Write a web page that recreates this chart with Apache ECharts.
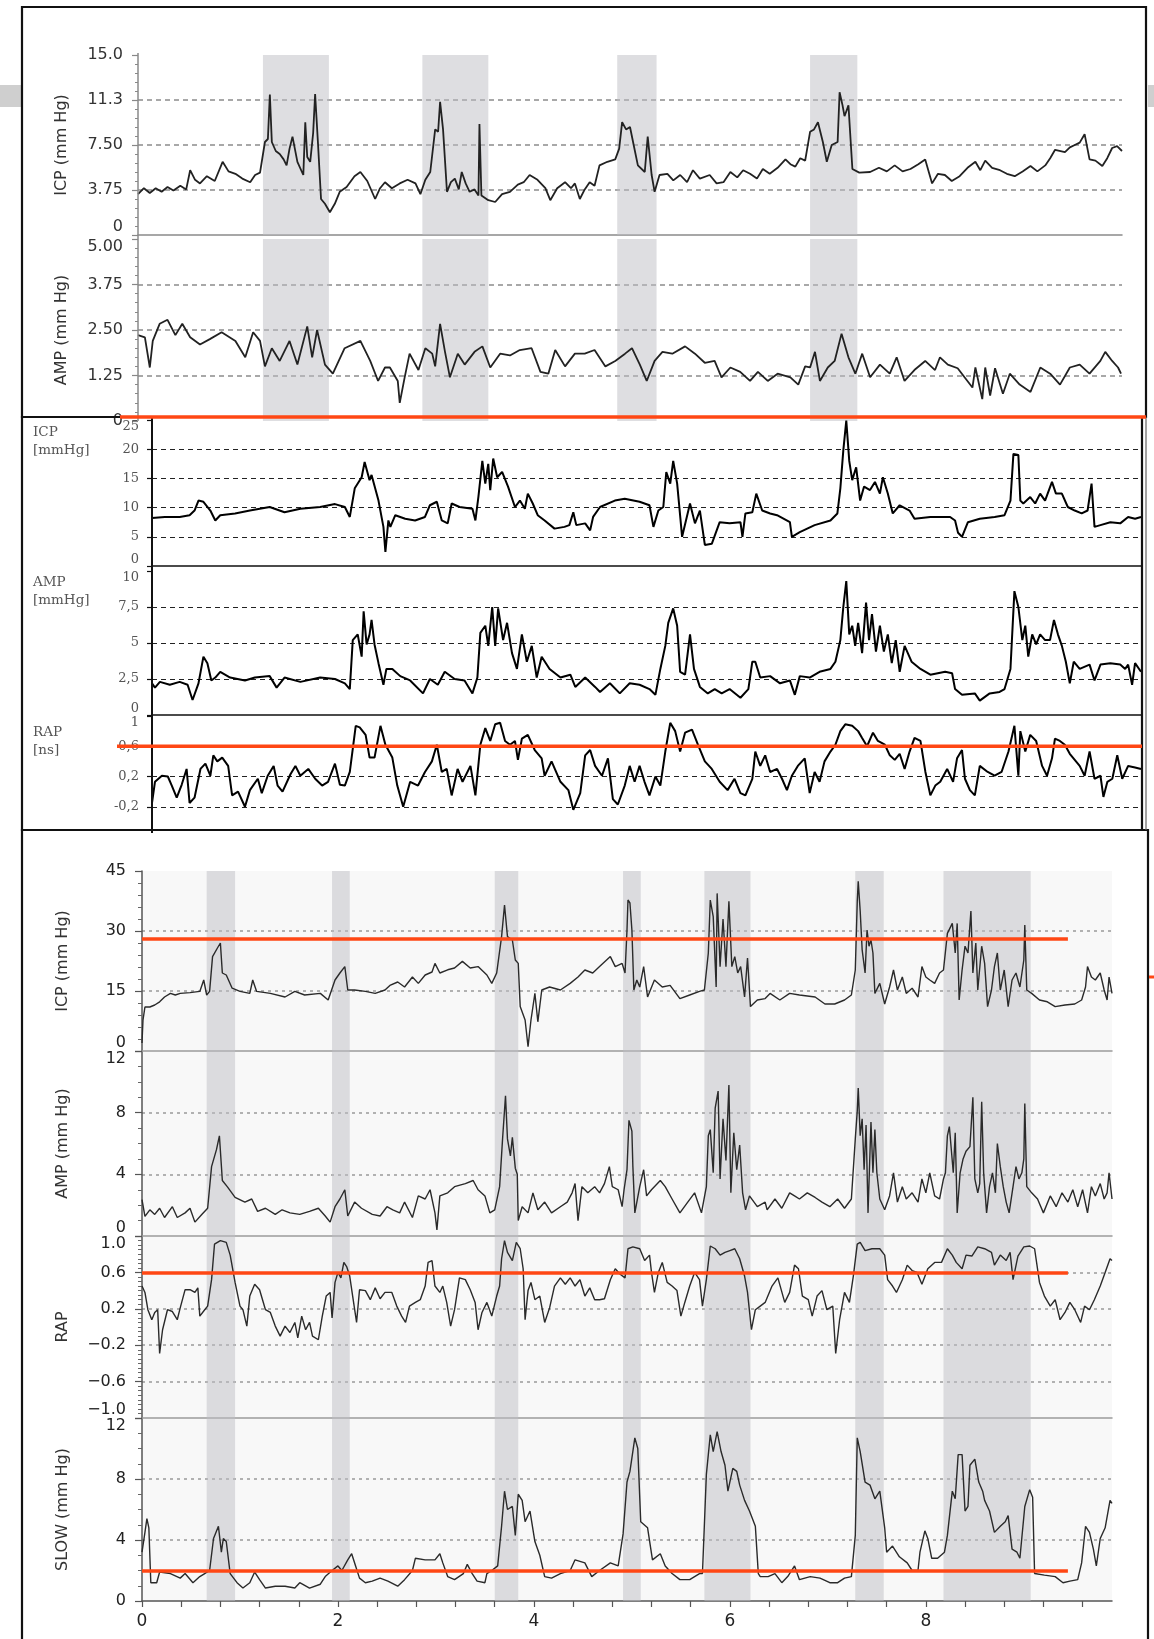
<!DOCTYPE html>
<html>
<head>
<meta charset="utf-8">
<title>ICP / AMP / RAP / SLOW</title>
<script src="https://cdn.jsdelivr.net/npm/echarts@6/dist/echarts.min.js"></script>
<style>
  html, body { margin: 0; padding: 0; background: #fff; }
  #main { width: 1154px; height: 1639px; }
</style>
</head>
<body>
<div id="main"></div>
<script>
// ---- panel A (top): time 0..100, ICP and AMP
const topBands = [[12.7, 19.4], [28.9, 35.6], [48.7, 52.7], [68.3, 73.1]];
const icpTopTicks = ['0', '3.75', '7.50', '11.3', '15.0'];
const ampTopTicks = ['0', '1.25', '2.50', '3.75', '5.00'];
const icpTopData = [[0,3.4],[0.6,3.9],[1.2,3.5],[1.8,3.9],[2.4,3.6],[3.0,4.0],[3.6,3.7],[4.3,4.1],[4.9,3.8],[5.3,5.4],[5.8,4.6],[6.3,4.3],[7.0,4.9],[7.8,4.5],[8.6,6.1],[9.2,5.3],[9.9,5.1],[10.6,4.7],[11.4,4.4],[11.9,5.0],[12.4,5.2],[12.9,7.75],[13.2,8.0],[13.4,11.7],[13.6,7.75],[14.0,7.0],[14.4,6.75],[14.8,6.3],[15.1,5.8],[15.4,7.2],[15.7,8.2],[16.2,6.1],[16.8,5.0],[17.0,9.4],[17.2,6.5],[17.5,6.1],[17.8,8.5],[18.0,11.75],[18.3,7.5],[18.6,3.0],[19.0,2.6],[19.5,1.9],[20.0,2.6],[20.5,3.6],[21.2,4.0],[22.0,4.9],[22.6,5.25],[23.3,4.5],[24.1,3.0],[24.6,3.9],[25.1,4.4],[25.8,3.9],[26.6,4.3],[27.4,4.6],[28.2,4.3],[28.7,3.4],[29.2,4.6],[29.7,5.25],[30.2,8.8],[30.5,8.6],[30.7,11.1],[31.0,8.8],[31.4,3.6],[31.8,4.4],[32.2,4.7],[32.6,3.8],[32.9,5.25],[33.3,4.3],[33.7,3.6],[34.2,3.8],[34.6,3.3],[34.7,9.25],[34.9,3.3],[35.6,2.9],[36.3,2.75],[37.0,3.4],[37.8,3.6],[38.6,4.2],[39.2,4.4],[39.8,5.0],[40.6,4.6],[41.4,3.9],[41.9,2.9],[42.6,3.9],[43.4,4.4],[44.0,3.9],[44.4,4.3],[44.9,3.0],[45.4,3.8],[45.9,4.4],[46.4,4.1],[46.9,5.8],[47.7,6.1],[48.5,6.3],[48.9,7.2],[49.2,9.4],[49.6,8.8],[50.0,9.0],[50.4,7.4],[50.8,5.8],[51.5,5.25],[51.8,8.2],[52.2,5.0],[52.5,3.6],[53.0,5.0],[53.8,5.1],[54.4,4.55],[55.1,5.0],[55.8,4.4],[56.4,5.4],[57.1,4.7],[58.1,5.0],[58.8,4.3],[59.5,4.4],[60.2,5.25],[60.9,4.8],[61.5,5.4],[62.2,5.1],[62.9,4.7],[63.5,5.5],[64.2,5.1],[65.0,5.6],[65.8,6.3],[66.3,5.9],[66.8,5.7],[67.3,6.4],[67.8,6.2],[68.3,8.6],[68.7,8.8],[69.1,9.4],[69.6,7.75],[70.0,6.1],[70.5,7.5],[71.1,7.75],[71.3,11.9],[71.6,10.8],[71.8,9.9],[72.2,10.8],[72.6,5.5],[73.3,5.2],[74.4,5.25],[75.3,5.6],[76.1,5.3],[76.9,5.8],[77.7,5.3],[78.5,5.5],[79.3,5.9],[80.0,6.3],[80.7,4.3],[81.3,5.1],[82.0,5.0],[82.7,4.5],[83.5,4.9],[84.3,5.6],[85.1,6.1],[85.6,5.4],[86.1,6.2],[86.8,5.6],[87.6,5.4],[88.3,5.1],[89.1,4.9],[89.9,5.3],[90.7,5.75],[91.4,5.3],[92.2,5.8],[92.7,6.4],[93.2,7.1],[94.2,6.9],[94.7,7.3],[95.2,7.5],[95.7,7.7],[96.2,8.4],[96.7,6.3],[97.3,6.2],[98.0,5.75],[98.5,6.4],[99.0,7.25],[99.5,7.4],[100,7.0]];
const ampTopData = [[0,2.36],[0.7,2.3],[1.2,1.47],[1.5,2.2],[2.2,2.67],[3.0,2.78],[3.8,2.36],[4.5,2.67],[5.3,2.3],[6.3,2.1],[7.3,2.25],[8.5,2.44],[9.9,2.2],[10.9,1.75],[11.7,2.44],[12.4,2.2],[12.9,1.5],[13.6,2.0],[14.4,1.65],[15.4,2.2],[16.2,1.55],[17.2,2.6],[17.7,1.75],[18.2,2.5],[19.0,1.55],[19.8,1.3],[21.0,2.0],[22.6,2.2],[23.6,1.65],[24.4,1.1],[25.1,1.47],[25.6,1.47],[26.4,1.1],[26.6,0.5],[27.1,1.2],[27.6,1.85],[28.5,1.4],[29.2,2.0],[29.9,1.85],[30.2,1.5],[30.7,2.67],[31.2,1.9],[31.7,1.2],[32.5,1.85],[33.2,1.55],[34.2,1.9],[35.0,2.05],[35.8,1.47],[36.8,1.85],[37.8,1.8],[38.8,1.95],[40.0,2.0],[40.9,1.35],[41.7,1.3],[42.4,1.95],[43.4,1.5],[44.4,1.85],[45.4,1.85],[46.4,1.95],[47.5,1.5],[48.5,1.65],[49.5,1.85],[50.2,2.0],[51.0,1.55],[51.7,1.1],[52.5,1.65],[53.3,1.9],[54.3,1.85],[55.6,2.05],[56.6,1.85],[57.6,1.6],[58.6,1.65],[59.3,1.2],[60.2,1.47],[61.2,1.35],[62.2,1.1],[63.0,1.35],[64.0,1.1],[65.0,1.3],[66.3,1.2],[67.1,1.0],[67.8,1.5],[68.3,1.47],[68.8,1.9],[69.3,1.1],[70.1,1.47],[70.8,1.65],[71.5,2.4],[72.2,1.75],[72.9,1.3],[73.6,1.85],[74.4,1.2],[75.4,1.55],[76.4,1.3],[77.1,1.75],[77.9,1.1],[78.9,1.4],[80.0,1.65],[81.0,1.4],[81.5,1.75],[82.3,1.55],[83.3,1.45],[84.0,1.2],[84.8,0.92],[85.1,1.47],[85.8,0.6],[86.1,1.47],[86.6,0.7],[87.1,1.45],[87.9,0.75],[88.6,1.3],[89.6,1.0],[90.7,0.8],[91.7,1.47],[92.7,1.3],[93.7,1.0],[94.7,1.47],[95.7,1.55],[96.7,1.3],[97.8,1.65],[98.3,1.9],[99.0,1.65],[99.6,1.47],[99.9,1.3]];

// ---- panel B (middle): time 0..100, ICP, AMP, RAP
const ampMidTicks = ['0', '2,5', '5', '7,5', '10'];
const rapMidTicks = ['', '-0,2', '0,2', '0,6', '1'];
const rapLimit = 0.6;
const icpMidData = [[0,8.2],[1.3,8.4],[2.8,8.4],[3.8,8.7],[4.3,9.5],[4.7,11.2],[5.2,11.0],[5.9,9.5],[6.4,7.8],[6.9,8.7],[8.4,9.0],[9.9,9.5],[11.9,10.1],[13.4,9.2],[15.0,9.8],[17.0,10.1],[18.5,10.6],[19.5,10.1],[20.0,8.4],[20.5,13.3],[21.2,15.2],[21.5,17.8],[22.0,14.7],[22.2,15.6],[22.9,11.2],[23.4,6.7],[23.6,2.4],[23.9,7.8],[24.1,6.7],[24.6,8.7],[25.6,8.1],[26.6,7.8],[27.6,8.4],[28.1,10.4],[28.8,11.0],[29.3,7.8],[29.9,7.3],[30.3,10.7],[31.1,10.1],[32.4,9.8],[32.7,7.8],[33.0,11.8],[33.4,18.0],[33.7,14.1],[34.0,17.5],[34.2,13.0],[34.5,18.4],[34.9,15.2],[35.4,16.1],[36.0,13.6],[36.7,10.1],[37.2,11.2],[37.7,9.8],[38.0,12.4],[38.5,10.7],[39.0,8.7],[39.7,7.8],[40.7,6.4],[41.7,6.7],[42.2,7.0],[42.6,9.2],[42.9,7.0],[43.8,7.3],[44.3,6.1],[44.6,8.4],[45.3,10.1],[46.8,11.2],[47.8,11.5],[49.3,11.0],[50.3,10.4],[50.7,6.7],[51.2,9.5],[51.7,10.1],[52.0,16.1],[52.4,14.1],[52.7,18.0],[53.1,14.1],[53.6,5.0],[54.4,10.7],[54.9,7.3],[55.4,9.5],[55.9,3.6],[56.6,3.8],[57.4,7.5],[58.4,7.3],[59.5,7.5],[59.7,5.0],[60.0,9.0],[60.7,9.2],[61.1,12.4],[61.7,9.5],[62.5,9.0],[63.2,8.7],[64.5,7.5],[64.7,5.0],[65.5,5.8],[67.0,7.0],[68.6,7.8],[69.3,9.0],[69.6,13.3],[69.9,19.8],[70.2,24.9],[70.5,18.0],[70.8,14.7],[71.2,16.9],[71.6,11.2],[72.0,13.6],[72.6,13.0],[73.1,14.4],[73.6,12.4],[73.9,15.2],[74.4,12.4],[74.9,9.0],[75.6,10.4],[76.6,9.5],[77.1,8.1],[78.7,8.4],[80.7,8.4],[81.2,7.8],[81.5,5.7],[81.9,5.0],[82.5,7.5],[83.7,8.1],[85.2,8.4],[86.2,8.7],[86.8,11.2],[87.1,19.2],[87.6,19.0],[87.8,11.2],[88.1,10.7],[88.8,11.8],[89.3,10.7],[89.8,12.4],[90.3,11.2],[91.0,14.4],[91.4,12.4],[92.0,12.4],[92.6,10.1],[93.3,9.5],[94.0,9.0],[94.6,9.5],[95.0,14.1],[95.3,6.7],[95.9,7.0],[96.9,7.5],[97.9,7.3],[98.7,8.4],[99.4,8.1],[100,8.4]];
const ampMidData = [[0,2.2],[0.3,1.9],[0.8,2.3],[1.8,2.1],[2.8,2.3],[3.6,2.1],[4.1,1.04],[4.7,2.2],[5.2,4.05],[5.6,3.6],[6.0,2.4],[6.4,2.6],[6.9,3.0],[7.9,2.6],[9.4,2.4],[10.4,2.6],[11.9,2.7],[12.6,1.9],[13.4,2.6],[15.0,2.3],[17.0,2.6],[18.5,2.5],[19.5,2.2],[20.0,1.8],[20.3,5.2],[20.8,5.6],[21.2,4.05],[21.4,7.2],[21.7,4.9],[22.0,5.6],[22.2,6.6],[22.5,4.9],[22.9,3.6],[23.4,2.1],[23.7,3.2],[24.3,3.2],[25.1,2.7],[26.1,2.4],[27.4,1.5],[28.1,2.5],[28.9,2.1],[29.6,3.0],[30.6,2.5],[31.6,2.4],[32.4,1.5],[32.9,2.6],[33.2,5.7],[33.7,6.2],[34.0,4.8],[34.4,7.5],[34.7,4.8],[35.0,7.4],[35.5,5.2],[35.9,6.4],[36.4,4.3],[36.9,3.2],[37.4,5.6],[37.9,3.7],[38.4,4.8],[38.9,2.6],[39.4,4.05],[40.2,3.2],[41.3,2.6],[42.3,2.8],[42.8,1.95],[43.8,2.6],[44.8,1.95],[45.3,1.6],[46.3,2.2],[47.3,1.5],[48.3,2.2],[49.3,2.1],[50.3,1.8],[50.9,1.4],[51.4,3.2],[51.9,4.8],[52.2,6.4],[52.7,7.4],[53.1,6.2],[53.4,3.0],[53.9,2.8],[54.4,5.6],[54.8,3.2],[55.4,1.95],[56.2,1.5],[56.9,1.8],[57.6,1.5],[58.4,1.8],[59.5,1.2],[60.3,1.8],[60.7,3.7],[61.0,3.7],[61.5,2.6],[62.5,2.7],[63.5,2.2],[64.5,2.4],[65.0,1.4],[65.5,2.7],[66.5,2.6],[67.5,3.0],[68.6,3.2],[69.1,3.7],[69.6,5.2],[69.9,7.5],[70.2,9.3],[70.5,5.6],[70.8,6.2],[71.1,4.8],[71.4,6.4],[71.8,4.3],[72.2,7.8],[72.5,5.2],[72.8,7.0],[73.2,4.4],[73.6,6.2],[74.0,4.4],[74.4,5.6],[74.8,3.6],[75.2,5.2],[75.6,3.0],[76.1,4.8],[76.8,3.7],[77.7,3.2],[78.7,2.8],[80.2,3.0],[80.9,2.9],[81.2,1.8],[81.9,1.4],[83.2,1.5],[83.7,1.0],[84.7,1.5],[85.7,1.6],[86.2,1.8],[86.8,3.2],[87.2,8.6],[87.6,7.5],[88.0,5.2],[88.3,6.2],[88.6,4.05],[89.0,5.6],[89.4,4.9],[89.8,5.6],[90.3,5.2],[90.8,5.2],[91.2,6.6],[91.6,5.6],[92.0,4.8],[92.4,3.7],[92.8,2.2],[93.2,3.7],[93.8,3.2],[94.8,3.5],[95.3,2.4],[95.9,3.5],[96.9,3.6],[97.9,3.5],[98.4,3.2],[98.7,3.5],[99.1,2.1],[99.4,3.6],[100,3.0]];
const rapMidData = [[0,-0.15],[0.3,0.13],[1.0,0.21],[1.6,0.2],[2.0,0.08],[2.5,-0.08],[3.0,0.09],[3.5,0.3],[3.8,-0.15],[4.3,-0.08],[4.9,0.3],[5.4,0.37],[5.9,0.21],[6.2,0.48],[6.6,0.4],[7.1,0.45],[7.7,0.34],[8.1,-0.05],[8.7,0.0],[9.4,-0.2],[9.9,0.02],[10.7,0.17],[11.1,-0.02],[11.7,0.21],[12.3,0.34],[12.7,0.08],[13.2,0.0],[14.0,0.23],[14.5,0.34],[15.0,0.21],[15.8,0.3],[16.5,0.17],[17.2,0.08],[17.8,0.13],[18.5,0.37],[19.0,0.09],[19.5,0.08],[20.0,0.26],[20.6,0.87],[21.0,0.85],[21.6,0.75],[22.0,0.45],[22.5,0.45],[23.1,0.87],[23.6,0.62],[24.3,0.45],[24.8,0.08],[25.4,-0.2],[26.1,0.13],[26.9,0.08],[27.6,0.26],[28.3,0.4],[28.8,0.62],[29.3,0.26],[29.8,0.3],[30.3,-0.05],[30.9,0.3],[31.4,0.13],[32.2,0.34],[32.7,-0.05],[33.2,0.62],[33.7,0.84],[34.2,0.67],[34.7,0.89],[35.2,0.91],[35.7,0.67],[36.2,0.62],[36.7,0.67],[37.0,0.42],[37.4,0.7],[38.0,0.75],[38.7,0.55],[39.4,0.44],[39.7,0.21],[40.4,0.4],[41.3,0.13],[42.1,0.02],[42.6,-0.24],[43.3,-0.02],[43.8,0.48],[44.3,0.55],[44.8,0.34],[45.5,0.21],[46.1,0.44],[46.6,-0.1],[47.1,-0.17],[47.8,0.08],[48.3,0.34],[48.8,0.13],[49.3,0.34],[49.8,0.13],[50.3,-0.05],[50.9,0.2],[51.4,0.08],[51.9,0.53],[52.4,0.91],[52.9,0.8],[53.4,0.53],[53.9,0.78],[54.6,0.82],[55.2,0.62],[55.9,0.4],[56.6,0.3],[57.4,0.13],[58.2,0.02],[58.9,0.17],[59.5,-0.02],[60.0,-0.05],[60.7,0.17],[61.0,0.53],[61.5,0.34],[62.0,0.48],[62.5,0.26],[63.2,0.3],[63.7,0.17],[64.2,0.02],[64.7,0.21],[65.3,0.34],[66.0,0.44],[66.5,-0.02],[67.0,0.26],[67.5,0.13],[68.0,0.4],[68.6,0.53],[69.1,0.62],[69.6,0.8],[70.1,0.89],[70.8,0.87],[71.4,0.8],[71.8,0.71],[72.3,0.6],[72.9,0.78],[73.4,0.67],[74.1,0.62],[74.6,0.48],[75.1,0.42],[75.6,0.5],[76.1,0.3],[76.6,0.53],[77.1,0.71],[77.7,0.67],[78.2,0.26],[78.7,-0.05],[79.2,0.08],[79.7,0.13],[80.4,0.3],[81.0,0.13],[81.4,0.44],[81.9,0.55],[82.2,0.17],[82.7,0.02],[83.2,-0.05],[83.7,0.34],[84.5,0.26],[85.2,0.21],[85.9,0.26],[86.6,0.53],[87.2,0.87],[87.6,0.21],[87.8,0.8],[88.3,0.53],[88.8,0.75],[89.4,0.67],[90.0,0.34],[90.5,0.21],[91.0,0.44],[91.3,0.7],[91.8,0.67],[92.3,0.62],[92.8,0.5],[93.3,0.42],[93.8,0.34],[94.3,0.21],[94.8,0.53],[95.3,0.17],[95.9,0.21],[96.2,-0.07],[96.6,0.13],[97.1,0.17],[97.6,0.48],[98.1,0.17],[98.7,0.34],[99.4,0.32],[100,0.3]];

// ---- panel C (bottom): time axis 0..9.9
const lowBands = [[0.66, 0.95], [1.94, 2.12], [3.6, 3.84], [4.91, 5.09], [5.74, 6.21], [7.28, 7.57], [8.18, 9.07]];
const timeTicks = [0, 0.4, 0.8, 1.2, 1.6, 2, 2.4, 2.8, 3.2, 3.6, 4, 4.4, 4.8, 5.2, 5.6, 6, 6.4, 6.8, 7.2, 7.6, 8, 8.4, 8.8, 9.2, 9.6];
const timeLabels = [0, 2, 4, 6, 8];
const icpLowTicks = ['0', '15', '30', '45'];
const ampLowTicks = ['0', '4', '8', '12'];
const rapLowTicks = ['\u22121.0', '\u22120.6', '\u22120.2', '0.2', '0.6', '1.0'];
const slowLowTicks = ['0', '4', '8', '12'];
const icpLimit = 28;
const slowLimit = 2;
const limitEnd = 9.45;
const icpLowData = [[0,2],[0.01,7.7],[0.03,11],[0.08,11],[0.13,11.5],[0.18,12.3],[0.23,13.5],[0.29,14.4],[0.34,14.0],[0.39,14.4],[0.49,14.6],[0.59,14.9],[0.63,17.75],[0.66,14.0],[0.69,14.9],[0.72,23.6],[0.77,25.75],[0.80,27.0],[0.82,19.5],[0.86,19.0],[0.92,15.7],[1.00,14.9],[1.10,14.4],[1.13,17.75],[1.17,14.9],[1.31,14.4],[1.46,13.5],[1.56,14.9],[1.66,14.0],[1.82,14.4],[1.90,12.75],[1.97,17.75],[2.02,19.5],[2.07,21.1],[2.10,15.25],[2.17,15.25],[2.28,14.9],[2.38,14.4],[2.48,15.25],[2.53,16.4],[2.61,17.25],[2.68,16.0],[2.76,18.5],[2.82,16.9],[2.89,19.0],[2.96,19.75],[2.99,21.9],[3.04,19.5],[3.12,20.3],[3.19,20.75],[3.27,22.4],[3.35,20.75],[3.43,21.1],[3.52,19.0],[3.57,16.9],[3.62,19.5],[3.67,28.6],[3.70,36.5],[3.73,28.6],[3.78,27.75],[3.81,22.75],[3.84,21.9],[3.86,11.1],[3.91,7.75],[3.94,1.1],[3.97,7.75],[4.01,14.4],[4.04,7.3],[4.08,15.25],[4.16,16.0],[4.27,15.25],[4.37,16.9],[4.45,18.5],[4.52,20.25],[4.60,19.5],[4.67,21.1],[4.78,23.6],[4.83,21.1],[4.90,21.9],[4.93,19.5],[4.95,30.25],[4.96,37.75],[4.98,37.0],[5.00,30.25],[5.02,15.25],[5.05,17.75],[5.08,16.0],[5.12,21.1],[5.16,13.5],[5.23,17.75],[5.31,16.0],[5.39,16.4],[5.49,13.1],[5.59,14.0],[5.69,14.9],[5.74,15.25],[5.78,24.5],[5.80,37.75],[5.83,33.6],[5.86,16.0],[5.87,39.4],[5.90,21.1],[5.93,33.0],[5.96,21.1],[5.99,37.4],[6.02,21.1],[6.05,23.6],[6.08,19.5],[6.11,21.1],[6.15,13.5],[6.18,23.25],[6.21,11.1],[6.28,12.75],[6.36,13.1],[6.41,14.4],[6.51,12.75],[6.61,14.4],[6.71,14.0],[6.87,13.5],[6.97,11.75],[7.07,11.75],[7.17,12.75],[7.24,14.0],[7.28,20.25],[7.30,37.4],[7.31,42.4],[7.33,35.0],[7.35,25.3],[7.38,19.5],[7.40,30.25],[7.42,26.2],[7.44,27.75],[7.46,24.5],[7.48,14.4],[7.53,16.9],[7.58,11.75],[7.63,16.0],[7.67,20.25],[7.71,15.25],[7.76,18.5],[7.80,14.4],[7.86,15.7],[7.92,13.5],[7.96,21.1],[8.00,18.5],[8.04,17.75],[8.09,16.9],[8.14,19.5],[8.18,20.25],[8.22,29.4],[8.27,31.9],[8.30,24.5],[8.32,31.9],[8.34,12.75],[8.37,20.25],[8.40,26.2],[8.43,24.5],[8.46,35.0],[8.48,19.5],[8.51,27.0],[8.53,15.25],[8.57,26.2],[8.60,21.9],[8.63,11.1],[8.67,15.25],[8.70,21.1],[8.73,24.5],[8.76,15.25],[8.80,20.25],[8.84,11.1],[8.88,17.75],[8.92,19.5],[8.96,16.0],[9.00,22.75],[9.01,31.5],[9.03,15.25],[9.08,14.4],[9.16,12.75],[9.24,12.3],[9.32,11.1],[9.42,11.5],[9.52,11.75],[9.59,12.75],[9.63,16.0],[9.65,21.1],[9.69,18.5],[9.73,17.75],[9.78,19.5],[9.82,15.25],[9.85,12.75],[9.87,18.5],[9.90,14.4]];
const ampLowData = [[0,2.36],[0.03,1.27],[0.08,1.7],[0.13,1.4],[0.18,1.8],[0.23,1.2],[0.31,1.9],[0.36,1.2],[0.44,1.5],[0.49,1.8],[0.54,0.9],[0.61,1.4],[0.67,1.8],[0.71,4.5],[0.76,5.6],[0.79,6.5],[0.82,3.6],[0.87,3.2],[0.95,2.5],[1.05,2.2],[1.12,2.4],[1.18,1.6],[1.26,1.8],[1.36,1.4],[1.43,1.7],[1.51,1.5],[1.61,1.4],[1.71,1.6],[1.80,1.8],[1.87,1.3],[1.92,0.9],[1.97,1.9],[2.02,2.4],[2.07,3.0],[2.10,1.3],[2.17,2.2],[2.24,1.8],[2.35,1.4],[2.43,1.3],[2.50,1.9],[2.56,1.7],[2.63,1.5],[2.68,2.2],[2.76,1.2],[2.82,2.6],[2.89,2.4],[2.94,3.0],[2.99,1.5],[3.01,0.4],[3.04,2.6],[3.12,2.8],[3.19,3.2],[3.30,3.4],[3.38,3.6],[3.43,3.0],[3.50,2.6],[3.55,1.5],[3.60,1.7],[3.65,3.2],[3.68,6.3],[3.71,9.1],[3.73,6.3],[3.76,5.2],[3.78,6.4],[3.81,4.4],[3.83,4.0],[3.84,1.0],[3.88,1.9],[3.94,1.5],[3.99,2.8],[4.04,1.7],[4.11,2.2],[4.18,1.5],[4.27,1.9],[4.34,2.2],[4.39,2.8],[4.42,3.4],[4.45,1.0],[4.49,3.2],[4.55,2.8],[4.62,3.2],[4.67,2.8],[4.72,3.4],[4.77,4.5],[4.80,3.2],[4.86,3.0],[4.90,1.9],[4.92,3.0],[4.95,4.3],[4.97,7.5],[5.00,6.8],[5.01,4.5],[5.03,1.5],[5.08,3.2],[5.12,4.3],[5.15,2.6],[5.20,3.0],[5.29,3.6],[5.34,3.2],[5.41,2.4],[5.49,1.5],[5.57,2.2],[5.64,2.8],[5.71,1.5],[5.76,3.2],[5.78,6.5],[5.80,6.9],[5.83,4.1],[5.85,8.3],[5.88,9.4],[5.90,3.7],[5.93,7.6],[5.96,4.9],[5.99,9.8],[6.01,2.8],[6.04,6.7],[6.07,4.3],[6.10,5.9],[6.13,2.8],[6.16,1.7],[6.20,2.6],[6.28,1.9],[6.36,2.2],[6.38,1.7],[6.46,2.4],[6.53,1.8],[6.61,2.8],[6.66,2.6],[6.71,2.4],[6.79,2.8],[6.87,2.5],[6.94,2.2],[7.02,1.9],[7.10,2.4],[7.17,1.8],[7.24,2.4],[7.28,6.3],[7.30,8.1],[7.31,9.6],[7.33,6.5],[7.35,7.6],[7.37,4.3],[7.39,7.2],[7.41,1.5],[7.44,7.4],[7.46,4.1],[7.48,6.9],[7.50,4.1],[7.53,2.4],[7.58,1.7],[7.63,2.6],[7.67,4.1],[7.71,2.2],[7.76,3.2],[7.80,2.4],[7.86,2.8],[7.92,2.2],[7.96,3.7],[8.00,2.8],[8.04,4.1],[8.09,2.6],[8.14,2.4],[8.18,3.7],[8.20,4.1],[8.22,6.5],[8.24,7.1],[8.28,4.1],[8.30,6.7],[8.32,1.5],[8.35,4.1],[8.38,5.0],[8.41,5.5],[8.45,5.8],[8.48,9.0],[8.50,3.7],[8.53,2.8],[8.55,3.4],[8.57,8.7],[8.59,4.1],[8.62,1.5],[8.65,3.2],[8.68,4.1],[8.71,2.8],[8.73,6.0],[8.76,4.5],[8.79,3.2],[8.82,2.2],[8.85,1.5],[8.89,3.2],[8.92,4.5],[8.95,3.7],[8.98,4.1],[9.00,5.0],[9.01,8.6],[9.03,3.2],[9.08,2.8],[9.14,2.4],[9.20,1.5],[9.27,2.6],[9.33,1.9],[9.39,2.8],[9.45,2.2],[9.50,3.0],[9.55,1.9],[9.60,3.0],[9.65,1.5],[9.69,3.2],[9.73,2.6],[9.78,3.4],[9.82,2.4],[9.85,2.8],[9.87,4.1],[9.90,2.4]];
const rapLowData = [[0,0.45],[0.03,0.38],[0.06,0.19],[0.10,0.08],[0.13,0.16],[0.16,0.19],[0.18,-0.29],[0.21,-0.03],[0.26,0.19],[0.31,0.17],[0.36,0.08],[0.39,0.21],[0.44,0.41],[0.49,0.41],[0.54,0.38],[0.57,0.43],[0.59,0.12],[0.64,0.19],[0.67,0.23],[0.71,0.52],[0.74,0.91],[0.80,0.95],[0.86,0.93],[0.90,0.79],[0.95,0.49],[1.00,0.23],[1.03,0.19],[1.07,0.01],[1.10,0.34],[1.15,0.47],[1.20,0.41],[1.26,0.19],[1.31,0.16],[1.36,0.01],[1.41,-0.1],[1.46,0.01],[1.51,-0.06],[1.56,0.05],[1.59,-0.12],[1.63,0.12],[1.67,-0.03],[1.71,0.05],[1.74,-0.1],[1.80,-0.14],[1.84,0.12],[1.88,0.34],[1.92,0.38],[1.94,0.1],[1.97,0.49],[2.00,0.6],[2.03,0.54],[2.06,0.71],[2.09,0.66],[2.12,0.56],[2.15,0.34],[2.19,0.05],[2.22,0.41],[2.28,0.4],[2.33,0.3],[2.38,0.43],[2.43,0.31],[2.48,0.38],[2.55,0.38],[2.60,0.23],[2.65,0.12],[2.69,0.05],[2.73,0.23],[2.79,0.27],[2.84,0.3],[2.89,0.45],[2.92,0.71],[2.96,0.73],[2.99,0.45],[3.04,0.38],[3.07,0.45],[3.11,0.27],[3.15,0.01],[3.19,0.19],[3.24,0.54],[3.30,0.52],[3.35,0.41],[3.40,0.27],[3.43,-0.03],[3.47,0.16],[3.52,0.27],[3.57,0.12],[3.62,0.34],[3.65,0.45],[3.67,0.75],[3.70,0.95],[3.73,0.82],[3.78,0.73],[3.82,0.93],[3.86,0.86],[3.89,0.64],[3.91,0.08],[3.94,0.4],[3.97,0.49],[4.01,0.3],[4.06,0.34],[4.11,0.05],[4.16,0.21],[4.21,0.45],[4.27,0.54],[4.32,0.47],[4.37,0.54],[4.42,0.45],[4.47,0.52],[4.52,0.34],[4.57,0.43],[4.62,0.3],[4.67,0.3],[4.72,0.31],[4.78,0.52],[4.83,0.64],[4.88,0.58],[4.93,0.54],[4.96,0.86],[5.01,0.88],[5.08,0.86],[5.13,0.73],[5.18,0.79],[5.20,0.6],[5.23,0.38],[5.27,0.6],[5.31,0.71],[5.36,0.49],[5.41,0.45],[5.46,0.4],[5.50,0.12],[5.54,0.27],[5.59,0.45],[5.64,0.6],[5.69,0.52],[5.72,0.23],[5.76,0.52],[5.80,0.89],[5.85,0.86],[5.90,0.79],[5.95,0.82],[6.00,0.84],[6.05,0.86],[6.10,0.75],[6.15,0.56],[6.18,0.38],[6.22,-0.03],[6.26,0.19],[6.31,0.23],[6.36,0.27],[6.43,0.45],[6.49,0.54],[6.56,0.27],[6.61,0.38],[6.66,0.68],[6.70,0.64],[6.74,0.34],[6.80,0.3],[6.84,0.12],[6.89,0.34],[6.94,0.4],[6.99,0.19],[7.05,0.23],[7.08,-0.29],[7.12,0.08],[7.17,0.38],[7.22,0.27],[7.26,0.56],[7.30,0.91],[7.33,0.93],[7.38,0.84],[7.45,0.86],[7.53,0.86],[7.58,0.79],[7.61,0.52],[7.66,0.45],[7.70,0.38],[7.76,0.52],[7.81,0.68],[7.86,0.62],[7.91,0.6],[7.96,0.47],[8.02,0.64],[8.09,0.71],[8.16,0.71],[8.22,0.86],[8.27,0.79],[8.31,0.71],[8.37,0.64],[8.41,0.79],[8.47,0.78],[8.53,0.88],[8.60,0.86],[8.67,0.82],[8.70,0.68],[8.76,0.79],[8.82,0.73],[8.86,0.82],[8.89,0.52],[8.94,0.78],[9.00,0.88],[9.06,0.89],[9.11,0.86],[9.16,0.49],[9.21,0.34],[9.27,0.23],[9.32,0.3],[9.37,0.08],[9.42,0.16],[9.47,0.27],[9.52,0.19],[9.58,0.05],[9.62,0.23],[9.67,0.19],[9.72,0.3],[9.78,0.45],[9.83,0.6],[9.88,0.75],[9.90,0.73]];
const slowLowData = [[0,3.2],[0.03,4.5],[0.05,5.4],[0.07,4.8],[0.09,1.2],[0.15,1.2],[0.18,1.9],[0.29,1.8],[0.39,1.5],[0.44,1.8],[0.52,1.2],[0.59,1.6],[0.64,1.8],[0.69,2.0],[0.73,4.1],[0.78,4.9],[0.81,3.2],[0.83,4.1],[0.86,3.9],[0.90,1.8],[0.97,1.2],[1.03,0.85],[1.10,1.2],[1.15,1.9],[1.20,1.4],[1.26,0.85],[1.36,0.97],[1.46,0.97],[1.56,0.85],[1.61,1.2],[1.71,0.85],[1.82,1.1],[1.87,1.6],[1.94,2.0],[2.00,2.3],[2.04,2.0],[2.10,2.7],[2.14,3.1],[2.18,2.3],[2.22,1.5],[2.28,1.2],[2.35,1.3],[2.43,1.5],[2.51,1.3],[2.61,0.97],[2.68,1.4],[2.76,2.0],[2.79,2.8],[2.89,2.7],[2.99,2.7],[3.04,3.1],[3.07,2.5],[3.12,1.6],[3.19,1.4],[3.28,1.8],[3.32,2.4],[3.37,1.8],[3.42,1.3],[3.50,1.2],[3.52,1.8],[3.57,2.0],[3.63,2.3],[3.67,4.9],[3.70,7.2],[3.73,6.0],[3.78,6.2],[3.81,4.3],[3.84,7.0],[3.88,6.6],[3.91,5.2],[3.96,5.9],[4.01,3.9],[4.06,3.0],[4.11,1.6],[4.18,1.5],[4.27,1.8],[4.37,2.0],[4.42,2.7],[4.52,2.5],[4.59,1.6],[4.67,2.0],[4.78,2.5],[4.86,2.3],[4.91,4.4],[4.95,7.8],[4.98,8.5],[5.03,10.7],[5.06,10.0],[5.09,5.2],[5.16,4.8],[5.21,2.7],[5.29,3.1],[5.34,2.3],[5.41,1.8],[5.49,1.4],[5.59,1.4],[5.69,1.8],[5.72,1.8],[5.76,8.3],[5.80,10.9],[5.83,9.8],[5.87,11.1],[5.91,9.8],[5.95,8.9],[5.98,7.2],[6.03,8.7],[6.07,8.5],[6.10,7.6],[6.15,6.6],[6.20,5.9],[6.26,4.9],[6.28,4.8],[6.29,1.8],[6.31,1.6],[6.39,1.6],[6.46,1.8],[6.53,1.2],[6.59,1.6],[6.66,2.3],[6.71,1.4],[6.82,1.6],[6.92,1.5],[7.02,1.2],[7.10,1.2],[7.17,1.5],[7.24,1.6],[7.28,4.3],[7.30,10.7],[7.33,9.8],[7.38,7.8],[7.43,7.6],[7.48,6.7],[7.53,7.2],[7.58,4.8],[7.60,3.2],[7.66,3.6],[7.73,2.9],[7.81,2.5],[7.86,2.0],[7.92,2.0],[7.94,3.2],[7.99,4.6],[8.02,4.1],[8.06,2.8],[8.12,2.8],[8.19,3.2],[8.22,4.3],[8.27,7.2],[8.30,6.7],[8.33,9.6],[8.37,9.6],[8.40,5.9],[8.43,6.2],[8.45,8.9],[8.50,9.3],[8.54,7.8],[8.58,7.2],[8.60,6.6],[8.65,5.9],[8.70,4.5],[8.76,4.9],[8.81,5.2],[8.84,5.6],[8.88,3.4],[8.93,3.2],[8.96,2.8],[9.01,6.2],[9.06,7.3],[9.09,6.8],[9.11,1.8],[9.21,1.7],[9.32,1.6],[9.40,1.2],[9.47,1.3],[9.55,1.4],[9.59,2.5],[9.63,4.9],[9.67,4.5],[9.71,3.4],[9.74,2.3],[9.78,4.1],[9.83,4.8],[9.88,6.6],[9.90,6.4]];

const sans = 'DejaVu Sans';
const serif = 'DejaVu Serif';
const orange = '#ff4714';

const chart = echarts.init(document.getElementById('main'));

// 公共样式
const bandArea = (bands) => ({
  silent: true,
  itemStyle: { color: 'rgba(190,190,196,0.5)' },
  data: bands.map(b => [{ xAxis: b[0] }, { xAxis: b[1] }])
});
const limitLine = (y) => ({
  silent: true,
  symbol: 'none',
  label: { show: false },
  lineStyle: { color: orange, width: 3.5, type: 'solid' },
  data: [[{ coord: [0, y] }, { coord: [limitEnd, y] }]]
});

const topY = (grid, max, step, labels, name) => ({
  gridIndex: grid, type: 'value', min: 0, max: max, interval: step,
  axisLine: { show: false },
  axisTick: { show: true, length: 6, lineStyle: { color: '#888', width: 1.2 } },
  minorTick: { show: true, splitNumber: 5, length: 3, lineStyle: { color: '#888' } },
  splitLine: { show: true, showMinLine: false, showMaxLine: false, lineStyle: { type: [5, 4], color: '#8c8c8c', width: 1.5 } },
  axisLabel: { formatter: (v, i) => labels[i], fontFamily: sans, fontSize: 16, color: '#333', margin: 15,
    verticalAlignMinLabel: grid === 0 ? 'bottom' : 'middle', verticalAlignMaxLabel: grid === 1 ? 'top' : 'middle' },
  name: name, nameLocation: 'middle', nameGap: 68,
  nameTextStyle: { fontFamily: sans, fontSize: 16, color: '#333' }
});

const midY = (grid, min, max, step, labels) => ({
  gridIndex: grid, type: 'value', min: min, max: max, interval: step,
  axisLine: { show: false },
  axisTick: { show: true, length: 5, lineStyle: { color: '#111', width: 1.2 } },
  splitLine: { show: true, showMinLine: false, showMaxLine: false, lineStyle: { type: [5, 4], color: '#222', width: 1 } },
  axisLabel: { formatter: (v, i) => labels[i], fontFamily: serif, fontSize: 13, color: '#555', margin: 13,
    verticalAlignMinLabel: 'bottom', verticalAlignMaxLabel: 'top' }
});

const lowY = (grid, min, max, step, minor, labels, name, alignMin, alignMax) => ({
  gridIndex: grid, type: 'value', min: min, max: max, interval: step,
  axisLine: { show: true, lineStyle: { color: '#555', width: 1.5 } },
  axisTick: { show: true, length: 7, lineStyle: { color: '#555', width: 1.2 } },
  minorTick: { show: true, splitNumber: minor, length: 4, lineStyle: { color: '#666' } },
  splitLine: { show: true, showMinLine: false, showMaxLine: false, lineStyle: { type: [3, 4], color: '#999', width: 1.5 } },
  axisLabel: { formatter: (v, i) => labels[i], fontFamily: sans, fontSize: 16, color: '#222', margin: 16,
    verticalAlignMinLabel: alignMin, verticalAlignMaxLabel: alignMax },
  name: name, nameLocation: 'middle', nameGap: 71,
  nameTextStyle: { fontFamily: sans, fontSize: 16, color: '#333' }
});

const plainX = (grid, lineColor, lineWidth) => ({
  gridIndex: grid, type: 'value', min: 0, max: 100,
  axisLine: { show: !!lineColor, onZero: false, lineStyle: { color: lineColor || '#000', width: lineWidth || 1 } },
  axisTick: { show: false }, axisLabel: { show: false }, splitLine: { show: false }
});
const lowX = (grid) => ({
  gridIndex: grid, type: 'value', min: 0, max: 9.9,
  axisLine: { show: true, onZero: false, lineStyle: { color: '#9a9a9a', width: 1.5 } },
  axisTick: { show: false }, axisLabel: { show: false }, splitLine: { show: false }
});

const lineSeries = (idx, data, color, width, extra) => Object.assign({
  type: 'line', xAxisIndex: idx, yAxisIndex: idx, data: data,
  showSymbol: false, symbol: 'none', silent: true,
  lineStyle: { color: color, width: width }
}, extra || {});

const option = {
  animation: false,
  backgroundColor: '#fff',
  grid: [
    { left: 138, top: 55, width: 984, height: 180 },
    { left: 138, top: 239, width: 984, height: 182 },
    { left: 152, top: 420, width: 989, height: 146 },
    { left: 152, top: 571, width: 989, height: 144 },
    // RAP grid reaches down to -0.6 so its ticks start at -0.6; the part below the frame is masked
    { left: 152, top: 716, width: 989, height: 121 },
    { left: 142, top: 871, width: 970, height: 180, show: true, backgroundColor: '#f8f8f8', borderWidth: 0 },
    { left: 142, top: 1051, width: 970, height: 185, show: true, backgroundColor: '#f8f8f8', borderWidth: 0 },
    { left: 142, top: 1236, width: 970, height: 182, show: true, backgroundColor: '#f8f8f8', borderWidth: 0 },
    { left: 142, top: 1418, width: 970, height: 183, show: true, backgroundColor: '#f8f8f8', borderWidth: 0 }
  ],
  xAxis: [
    plainX(0, '#8a8a8a', 1.5),
    plainX(1),
    plainX(2, '#111', 1.5),
    plainX(3, '#111', 1.5),
    plainX(4),
    lowX(5), lowX(6), lowX(7),
    {
      gridIndex: 8, type: 'value', min: 0, max: 9.9,
      axisLine: { show: true, onZero: false, lineStyle: { color: '#555', width: 1.5 } },
      axisTick: { show: true, length: 6, customValues: timeTicks, lineStyle: { color: '#555', width: 1.2 } },
      axisLabel: { customValues: timeLabels, fontFamily: sans, fontSize: 17, color: '#222', margin: 12 },
      splitLine: { show: false }
    }
  ],
  yAxis: [
    topY(0, 15, 3.75, icpTopTicks, 'ICP (mm Hg)'),
    topY(1, 5, 1.25, ampTopTicks, 'AMP (mm Hg)'),
    midY(2, 0, 25, 5, ['0', '5', '10', '15', '20', '25']),
    midY(3, 0, 10, 2.5, ampMidTicks),
    midY(4, -0.6, 1, 0.4, rapMidTicks),
    lowY(5, 0, 45, 15, 5, icpLowTicks, 'ICP (mm Hg)', 'bottom', 'middle'),
    lowY(6, 0, 12, 4, 4, ampLowTicks, 'AMP (mm Hg)', 'bottom', 'top'),
    lowY(7, -1, 1, 0.4, 8, rapLowTicks, 'RAP', 'bottom', 'top'),
    lowY(8, 0, 12, 4, 4, slowLowTicks, 'SLOW (mm Hg)', 'middle', 'top')
  ],
  series: [
    lineSeries(0, icpTopData, '#222', 1.8, { markArea: bandArea(topBands) }),
    lineSeries(1, ampTopData, '#222', 1.8, { markArea: bandArea(topBands) }),
    lineSeries(2, icpMidData, '#000', 2),
    lineSeries(3, ampMidData, '#000', 2),
    lineSeries(4, rapMidData, '#000', 2),
    lineSeries(5, icpLowData, '#2a2a2a', 1.4, { markArea: bandArea(lowBands), markLine: limitLine(icpLimit) }),
    lineSeries(6, ampLowData, '#2a2a2a', 1.4, { markArea: bandArea(lowBands) }),
    lineSeries(7, rapLowData, '#2a2a2a', 1.4, { markArea: bandArea(lowBands), markLine: limitLine(rapLimit) }),
    lineSeries(8, slowLowData, '#2a2a2a', 1.4, { markArea: bandArea(lowBands), markLine: limitLine(slowLimit) })
  ]
};
chart.setOption(option);

// frames, labels and the red guide lines of the pasted figures
const rapMidY = chart.convertToPixel({ xAxisIndex: 4, yAxisIndex: 4 }, [0, rapLimit])[1];
const frame = (x, y, w, h) => ({ type: 'rect', silent: true, z: 10, shape: { x: x, y: y, width: w, height: h }, style: { fill: 'none', stroke: '#111', lineWidth: 2.2 } });
const rule = (x1, y1, x2, y2, color, w) => ({ type: 'line', silent: true, z: 11, shape: { x1: x1, y1: y1, x2: x2, y2: y2 }, style: { stroke: color, lineWidth: w } });
const note = (text, x, y) => ({ type: 'text', silent: true, z: 11, x: x, y: y, style: { text: text, font: '13.5px "DejaVu Serif"', fill: '#555', verticalAlign: 'middle' } });

chart.setOption({
  graphic: {
    elements: [
      { type: 'rect', silent: true, z: 1, shape: { x: 0, y: 85, width: 22, height: 22 }, style: { fill: '#cfcfcf' } },
      { type: 'rect', silent: true, z: 1, shape: { x: 1148, y: 85, width: 6, height: 22 }, style: { fill: '#cfcfcf' } },
      // mask for the part of the middle RAP axis below its frame
      { type: 'rect', silent: true, z: 9, shape: { x: 130, y: 831, width: 30, height: 12 }, style: { fill: '#fff' } },
      frame(22, 7, 1124, 410),
      frame(22, 417, 1120, 413),
      frame(22, 830, 1126, 830),
      rule(138, 53, 138, 421, '#8a8a8a', 1.5),
      rule(152, 417, 152, 833, '#111', 2),
      rule(1146, 417, 1146, 830, '#666', 1.2),
      note('ICP', 33, 432), note('[mmHg]', 33, 450),
      note('AMP', 33, 582), note('[mmHg]', 33, 600),
      note('RAP', 33, 732), note('[ns]', 33, 750),
      rule(120, 417, 1146, 417, orange, 3.5),
      rule(117, rapMidY, 1142, rapMidY, orange, 3.5),
      rule(1149, 977, 1154, 977, orange, 3)
    ]
  }
});
</script>
</body>
</html>
